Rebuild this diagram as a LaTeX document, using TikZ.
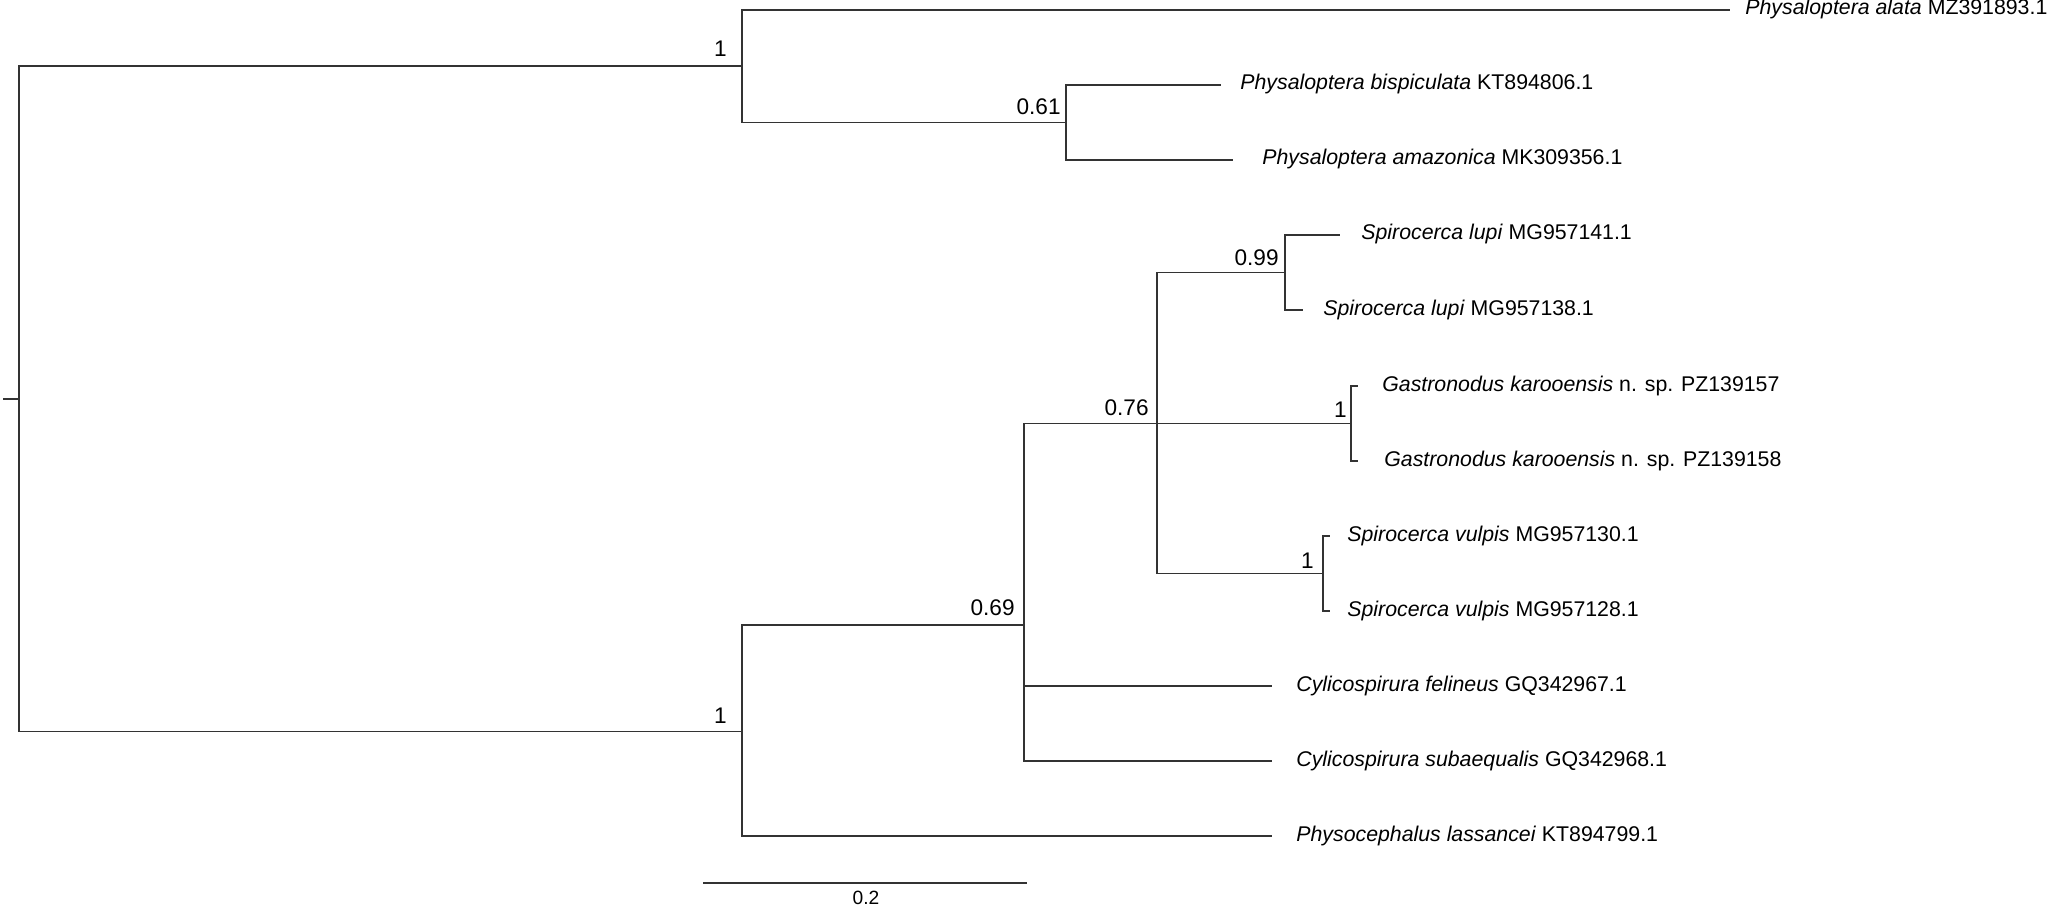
\documentclass[tikz,border=0pt]{standalone}
\usepackage{fontspec}
\setmainfont{Liberation Sans}
\begin{document}
\begin{tikzpicture}[x=0.5pt,y=-0.5pt,
  branch/.style={draw=black!80, line width=0.9pt},
  taxon/.style={anchor=base west, inner sep=0pt, font=\fontsize{10.65}{12}\selectfont},
  support/.style={anchor=base east, inner sep=0pt, font=\fontsize{11.3}{13}\selectfont},
  scalelbl/.style={anchor=base, inner sep=0pt, font=\fontsize{9.6}{11}\selectfont}]
\useasboundingbox (0,0) rectangle (2050,909);
% internal nodes
\coordinate (stub) at (3,399);
\coordinate (root) at (19,399);
\coordinate (nA) at (742,66);
\coordinate (nB) at (1066,122.5);
\coordinate (nC) at (742,731.5);
\coordinate (nD) at (1024,625);
\coordinate (nE) at (1157,423.5);
\coordinate (nF) at (1285,272.5);
\coordinate (nG) at (1351,423.5);
\coordinate (nH) at (1323,573.5);
% tips
\coordinate (t0) at (1730,10);
\coordinate (t1) at (1221,85);
\coordinate (t2) at (1233,160);
\coordinate (t3) at (1340,235);
\coordinate (t4) at (1303,310);
\coordinate (t5) at (1358,386);
\coordinate (t6) at (1358,461);
\coordinate (t7) at (1330,536);
\coordinate (t8) at (1330,611);
\coordinate (t9) at (1272,686);
\coordinate (t10) at (1272,761);
\coordinate (t11) at (1272,836);
% taxon labels
\node[taxon] (l0) at (1745,15) {\textit{Physaloptera alata} MZ391893.1};
\node[taxon] (l1) at (1240,90) {\textit{Physaloptera bispiculata} KT894806.1};
\node[taxon] (l2) at (1262,165) {\textit{Physaloptera amazonica} MK309356.1};
\node[taxon] (l3) at (1361,240) {\textit{Spirocerca lupi} MG957141.1};
\node[taxon] (l4) at (1323,315) {\textit{Spirocerca lupi} MG957138.1};
\node[taxon] (l5) at (1382,391) {\textit{Gastronodus karooensis} n. sp. PZ139157};
\node[taxon] (l6) at (1384,466) {\textit{Gastronodus karooensis} n. sp. PZ139158};
\node[taxon] (l7) at (1347,541) {\textit{Spirocerca vulpis} MG957130.1};
\node[taxon] (l8) at (1347,616) {\textit{Spirocerca vulpis} MG957128.1};
\node[taxon] (l9) at (1296,691) {\textit{Cylicospirura felineus} GQ342967.1};
\node[taxon] (l10) at (1296,766) {\textit{Cylicospirura subaequalis} GQ342968.1};
\node[taxon] (l11) at (1296,841) {\textit{Physocephalus lassancei} KT894799.1};
% branches
\draw[branch] (stub) -- (root);
\draw[branch] (root) |- (nA);
\draw[branch] (root) |- (nC);
\draw[branch] (nA) |- (t0);
\draw[branch] (nA) |- (nB);
\draw[branch] (nB) |- (t1);
\draw[branch] (nB) |- (t2);
\draw[branch] (nC) |- (nD);
\draw[branch] (nC) |- (t11);
\draw[branch] (nD) |- (nE);
\draw[branch] (nD) |- (t9);
\draw[branch] (nD) |- (t10);
\draw[branch] (nE) |- (nF);
\draw[branch] (nE) |- (nG);
\draw[branch] (nE) |- (nH);
\draw[branch] (nF) |- (t3);
\draw[branch] (nF) |- (t4);
\draw[branch] (nG) |- (t5);
\draw[branch] (nG) |- (t6);
\draw[branch] (nH) |- (t7);
\draw[branch] (nH) |- (t8);
% support values
\node[support] (sA) at (727,57) {1};
\node[support] (sB) at (1061,115) {0.61};
\node[support] (sC) at (727,723) {1};
\node[support] (sD) at (1015,615) {0.69};
\node[support] (sE) at (1149,415) {0.76};
\node[support] (sF) at (1279,265) {0.99};
\node[support] (sG) at (1347,417) {1};
\node[support] (sH) at (1314,568) {1};
% scale bar
\coordinate (sb1) at (703,883);
\coordinate (sb2) at (1027,883);
\draw[branch] (sb1) -- (sb2);
\node[scalelbl] (sbl) at (866,904) {0.2};
\end{tikzpicture}
\end{document}
